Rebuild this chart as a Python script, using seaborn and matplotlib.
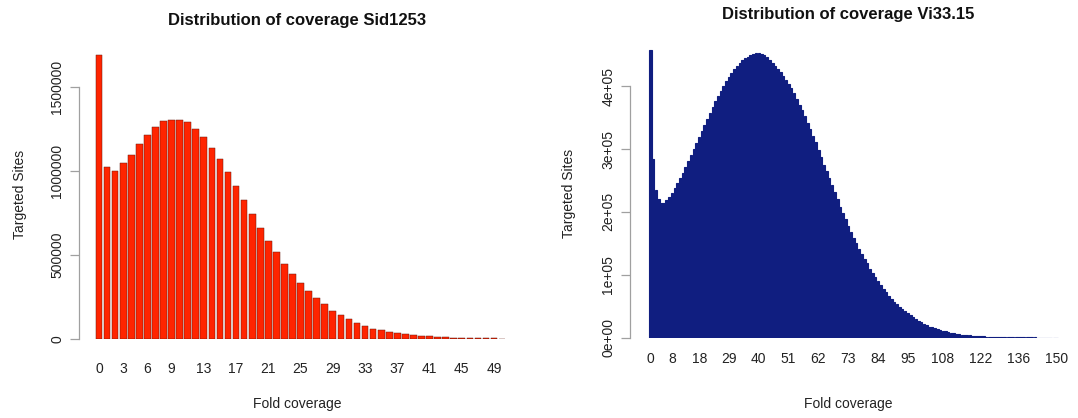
import numpy as np
import pandas as pd
import matplotlib
matplotlib.use("Agg")
import matplotlib.pyplot as plt
import seaborn as sns

# ---------------- data ----------------
sid_coverage = list(range(51))
sid_sites = [1690000, 1026000, 1000000, 1046000, 1097000, 1163000, 1216000, 1260000, 1296000, 1306000,
             1304000, 1290000, 1252000, 1200000, 1139000, 1073000, 996000, 913000, 829000, 746000,
             663000, 585000, 516000, 446000, 385000, 335000, 288000, 246000, 206000, 169000,
             143000, 117000, 98000, 77000, 61000, 54000, 44000, 38000, 32000, 24000,
             20000, 16000, 13000, 10000, 8000, 7000, 6000, 5000, 4000, 3000, 2000]
sid_ticklabels = [0, 3, 6, 9, 13, 17, 21, 25, 29, 33, 37, 41, 45, 49]

vi_coverage = list(range(151))
vi_sites = [457000, 283600, 234800, 220000, 214600, 214600, 219000, 224000, 230500, 238500,
            246000, 254000, 262000, 272000, 281000, 290000, 300000, 310000, 319500, 329000,
            338600, 348000, 357700, 367000, 375800, 384000, 392700, 400000, 407600, 415000,
            421000, 426700, 432000, 437000, 441500, 444700, 447000, 449500, 451000, 452000,
            452000, 451000, 449000, 446000, 441500, 437500, 432500, 427000, 422000, 416000,
            410000, 404000, 397500, 389000, 379500, 370500, 361500, 352000, 342000, 331500,
            321000, 310500, 299000, 287000, 275000, 264500, 254000, 243500, 232000, 220000,
            208000, 198000, 188000, 177500, 167500, 159000, 150000, 141500, 133500, 125500,
            118000, 110000, 103000, 96500, 90500, 84000, 78000, 72500, 67000, 62000,
            57500, 53000, 49000, 45500, 42000, 38500, 35500, 32500, 29500, 26500,
            24500, 22000, 19500, 17500, 16500, 15500, 14000, 12500, 11300, 10200,
            9000, 7800, 7000, 6200, 5500, 4900, 4400, 3900, 3500, 3100,
            2800, 2600, 2300, 2100, 1900, 1700, 1500, 1350, 1200, 1100,
            1000, 900, 820, 750, 680, 620, 560, 510, 470, 430,
            390, 360, 330, 300, 270, 250, 230, 210, 190, 170, 160]
vi_ticklabels = [0, 8, 18, 29, 40, 51, 62, 73, 84, 95, 108, 122, 136, 150]

sid_title = "Distribution of coverage Sid1253"
vi_title = "Distribution of coverage Vi33.15"
x_label = "Fold coverage"
y_label = "Targeted Sites"

# ---------------- style ----------------
sns.set_style("white")
plt.rcParams['font.family'] = ['Liberation Sans', 'DejaVu Sans']

W, H = 1078, 418
fig = plt.figure(figsize=(W / 100, H / 100), dpi=100)


def px_axes(left, top, right, bottom):
    return fig.add_axes([left / W, 1 - bottom / H, (right - left) / W, (bottom - top) / H])


def style_axes(ax, yticks, yticklabels, ylim_top, xlim, ticklabels, title, title_y_px,
               xtick_px, top_px, bottom_px, axis_px):
    ax.set_ylim(0, ylim_top)
    ax.set_xlim(*xlim)
    for s in ['top', 'right', 'bottom']:
        ax.spines[s].set_visible(False)
    ax.spines['left'].set_bounds(yticks[0], yticks[-1])
    ax.spines['left'].set_color('#a0a0a0')
    ax.spines['left'].set_linewidth(0.9)
    ax.set_yticks(yticks)
    ax.set_yticklabels(yticklabels, rotation=90, va='center', fontsize=10, color='#222222')
    ax.tick_params(axis='y', left=True, length=6.5, width=0.9, color='#a0a0a0', pad=4)
    ax.set_xticks(ticklabels)
    ax.set_xticklabels([str(t) for t in ticklabels], fontsize=10, color='#222222')
    h = bottom_px - top_px
    ax.tick_params(axis='x', bottom=False, length=0, pad=(xtick_px - bottom_px - 7) * 0.72)
    ax.set_xlabel(x_label, fontsize=10, color='#222222')
    ax.xaxis.set_label_coords(0.5, -(404 - bottom_px) / h)
    ax.xaxis.label.set_va('center')
    ax.set_ylabel(y_label, fontsize=10, color='#222222')
    ax.yaxis.set_label_coords(-(axis_px) / (ax.get_position().width * W), 0.5)
    ax.yaxis.label.set_va('center')
    ax.set_title(title, fontsize=12, fontweight='bold', y=(bottom_px - title_y_px) / h,
                 pad=0, va='center', color='#111111')
    ax.grid(False)


# ---------------- left panel ----------------
ax1 = px_axes(79, 50, 515, 339)
df1 = pd.DataFrame({"cov": sid_coverage, "sites": sid_sites})
sns.barplot(data=df1, x="cov", y="sites", ax=ax1, color="#FF2400", saturation=1,
            width=0.83, errorbar=None, edgecolor="#6a1a10", linewidth=0.35)
style_axes(ax1, [0, 500000, 1000000, 1500000], ['0', '500000', '1000000', '1500000'],
           1.72e6, (-2.48, 51.6), sid_ticklabels, sid_title, 21, 369, 50, 339, 59)

# ---------------- right panel ----------------
ax2 = px_axes(630, 48.4, 1066, 337.7)
df2 = pd.DataFrame({"cov": vi_coverage, "sites": vi_sites})
sns.barplot(data=df2, x="cov", y="sites", ax=ax2, color="#101E80", saturation=1,
            width=0.92, errorbar=None, edgecolor="#101E80", linewidth=0.8)
style_axes(ax2, [0, 100000, 200000, 300000, 400000],
           ['0e+00', '1e+05', '2e+05', '3e+05', '4e+05'],
           4.6e5, (-7.57, 153.5), vi_ticklabels, vi_title, 14, 359, 48.4, 337.7, 61)

fig.savefig("out.png", dpi=100, facecolor="white")
